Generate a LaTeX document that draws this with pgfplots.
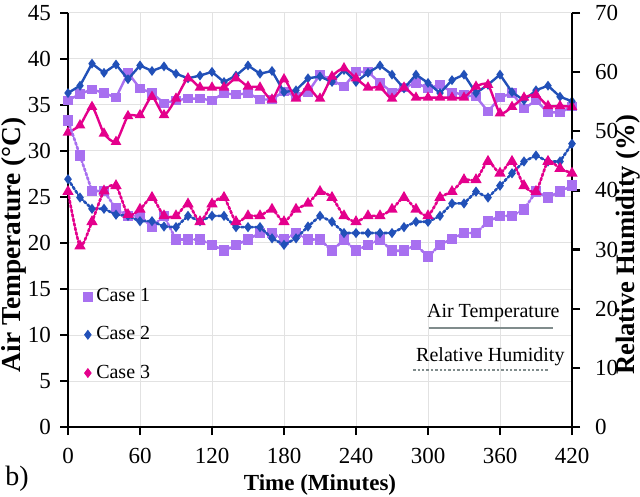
\documentclass[border=0pt]{standalone}
\usepackage{fontspec}
\setmainfont{Liberation Serif}
\usepackage{pgfplots}
\usepackage{pgfplotstable}
\pgfplotsset{compat=1.18}
\definecolor{cA}{RGB}{168,112,240}
\definecolor{cB}{RGB}{33,80,184}
\definecolor{cC}{RGB}{228,0,140}
\definecolor{gridc}{RGB}{226,226,226}
\definecolor{legc}{RGB}{128,140,140}
\pgfplotstableread{
t T1 T2 T3 R1 R2 R3
0 35.5 36.3 32.0 51.8 41.9 39.8
10 36.2 37.1 32.8 45.9 38.8 30.6
20 36.7 39.5 34.8 39.9 36.9 34.7
30 36.3 38.5 31.9 39.9 36.9 39.9
40 35.8 39.4 31.0 36.9 35.9 40.8
50 38.5 37.8 33.8 35.7 35.7 35.9
60 36.8 39.3 33.9 35.7 34.8 36.8
70 36.3 38.7 35.9 33.8 34.8 38.8
80 35.2 39.2 33.9 35.7 33.9 35.7
90 35.5 38.4 35.7 31.7 33.8 35.7
100 35.7 37.9 37.9 31.7 35.7 37.7
110 35.7 38.2 36.9 31.7 34.8 34.7
120 35.5 38.6 36.9 30.8 35.7 37.7
130 36.3 37.5 36.9 29.8 35.7 38.8
140 36.1 38.2 37.9 30.8 33.8 34.7
150 36.3 39.3 37.0 31.7 33.8 35.7
160 35.6 38.4 36.9 32.8 33.8 35.7
170 35.6 38.7 35.6 32.8 31.9 36.8
180 36.5 36.4 37.8 31.7 30.8 34.7
190 35.9 36.6 35.7 32.8 31.9 36.8
200 36.4 37.9 36.9 31.7 33.9 37.8
210 38.3 38.1 35.7 31.7 35.7 39.8
220 37.7 37.5 38.1 29.8 34.7 38.8
230 37.0 38.8 39.0 31.7 32.8 35.7
240 38.6 37.5 37.9 29.8 32.8 34.7
250 38.6 38.5 36.9 30.8 32.8 35.7
260 37.4 39.3 36.9 31.7 32.8 35.7
270 36.4 38.3 35.7 29.8 32.8 36.8
280 36.9 36.8 36.9 29.8 33.8 38.8
290 37.4 38.3 35.8 30.8 34.7 36.8
300 36.8 37.4 35.8 28.8 34.7 35.7
310 37.2 36.3 35.8 30.8 35.7 38.8
320 36.4 37.7 35.8 31.8 37.8 39.8
330 36.1 38.3 35.8 32.8 37.8 41.8
340 35.9 36.3 37.0 32.8 39.8 41.8
350 34.3 37.2 37.2 34.7 38.8 44.9
360 35.8 38.3 34.1 35.7 40.8 42.9
370 36.3 36.4 34.8 35.7 42.9 44.9
380 34.6 35.5 35.8 36.8 44.9 40.8
390 35.5 36.6 36.1 39.8 45.9 39.8
400 34.2 37.1 34.9 38.8 44.9 44.9
410 34.2 35.9 34.9 39.8 44.9 43.7
420 34.8 35.4 34.8 40.8 47.9 42.9
}\data
\begin{document}
\begin{tikzpicture}
\useasboundingbox (-34pt,-34.5pt) rectangle (286pt,213.5pt);
\pgfplotsset{
  common/.style={
    scale only axis, width=252pt, height=207pt,
    xmin=0, xmax=420,
    clip mode=individual,
    axis line style={line width=1.2pt, -},
    tick style={black, line width=1.2pt},
    major tick length=4pt,
    tick align=outside,
    ticklabel style={font=\fontsize{11.5}{13}\selectfont},
    /pgf/number format/assume math mode=true,
  },
  rh/.style={densely dotted, line width=1.3pt, line cap=round},
  tp/.style={line width=1.2pt},
}
\begin{axis}[common,
  ymin=0, ymax=45,
  xtick={0,60,...,420}, ytick={0,5,...,45},
  axis x line*=bottom, axis y line*=left,
  xticklabel style={yshift=-3pt},
  yticklabel style={xshift=-1pt},
  grid=major, major grid style={gridc, line width=0.5pt},
  legend style={draw=none, fill=none, at={(axis description cs:0.018,0.355)}, anchor=north west,
    font=\fontsize{10}{12}\selectfont, row sep=7pt},
  legend cell align=left,
]
\addplot[forget plot, tp, cA, mark=square*, mark size=1.7pt] table[x=t, y=T1] {\data};
\addplot[forget plot, tp, cB, mark=diamond*, mark size=1.5pt] table[x=t, y=T2] {\data};
\addplot[forget plot, tp, cC, smooth, tension=0.4, mark=triangle*, mark size=1.9pt] table[x=t, y=T3] {\data};
\addlegendimage{only marks, cA, mark=square*, mark size=2.2pt}
\addlegendentry{Case 1}
\addlegendimage{only marks, cB, mark=diamond*, mark size=2.2pt}
\addlegendentry{Case 2}
\addlegendimage{only marks, cC, mark=diamond*, mark size=2.2pt}
\addlegendentry{Case 3}
\node[anchor=east, font=\fontsize{10}{12}\selectfont, inner sep=0pt] at (axis description cs:0.976,0.275) {Air Temperature};
\draw[legc, line width=1pt] (axis description cs:0.716,0.239) -- (axis description cs:0.962,0.239);
\node[anchor=east, font=\fontsize{10}{12}\selectfont, inner sep=0pt] at (axis description cs:0.986,0.169) {Relative Humidity};
\draw[legc, line width=1.2pt, densely dotted] (axis description cs:0.685,0.138) -- (axis description cs:0.952,0.138);
\node[font=\fontsize{14}{16}\selectfont] at (axis description cs:-0.101,-0.125) {b)};
\node[font=\fontsize{11.5}{13}\selectfont\bfseries] at (axis description cs:0.5,-0.14) {Time (Minutes)};
\node[font=\fontsize{13.7}{16}\selectfont\bfseries, rotate=90] at (axis description cs:-0.107,0.44) {Air Temperature (°C)};
\end{axis}
\begin{axis}[common,
  ymin=0, ymax=70, ytick={0,10,...,70},
  axis x line=none, axis y line*=right,
  yticklabel style={xshift=4pt},
]
\addplot[rh, cA, mark=square*, mark size=2pt, mark options={solid}] table[x=t, y=R1] {\data};
\addplot[rh, cB, mark=diamond*, mark size=1.5pt, mark options={solid}] table[x=t, y=R2] {\data};
\addplot[rh, cC, smooth, tension=0.4, mark=triangle*, mark size=2pt, mark options={solid}] table[x=t, y=R3] {\data};
\node[font=\fontsize{13.3}{16}\selectfont\bfseries, rotate=90] at (axis description cs:1.111,0.44) {Relative Humidity (\%)};
\end{axis}
\end{tikzpicture}
\end{document}
